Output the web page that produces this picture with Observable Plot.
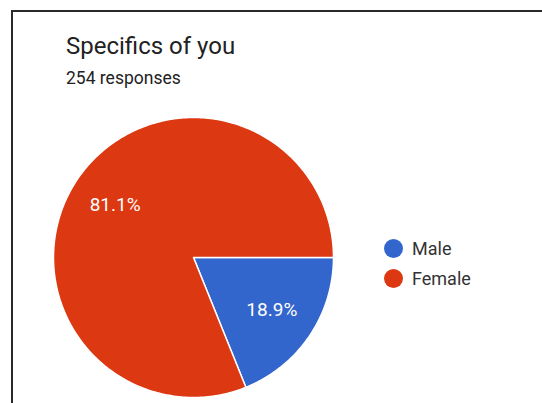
<!DOCTYPE html>
<html>
<head>
<meta charset="utf-8">
<script src="https://cdn.jsdelivr.net/npm/d3@7"></script>
<script src="https://cdn.jsdelivr.net/npm/@observablehq/plot@0.6"></script>
<style>
  html, body { margin: 0; padding: 0; background: #fff; }
  body { width: 542px; height: 403px; position: relative; overflow: hidden; font-family: Roboto, "Noto Sans", Arial, sans-serif; }
  .frame { position: absolute; left: 11px; top: 10px; right: 0; bottom: 0; border-left: 2.5px solid #2a2a2a; border-top: 2.5px solid #2a2a2a; }
  .title { position: absolute; left: 66px; top: 34px; font-size: 24px; line-height: 24px; color: #222; white-space: nowrap; }
  .subtitle { position: absolute; left: 66px; top: 69px; font-size: 17.5px; line-height: 18px; color: #222; white-space: nowrap; }
  #chart { position: absolute; left: 0; top: 0; }
  .legend { position: absolute; left: 384px; top: 233px; }
  .legend .row { display: flex; align-items: center; height: 30px; }
  .legend .dot { width: 19px; height: 19px; border-radius: 50%; margin-right: 9px; }
  .legend .lab { font-size: 18px; color: #333; }
</style>
</head>
<body>
<div class="frame"></div>
<div class="title">Specifics of you</div>
<div class="subtitle">254 responses</div>
<div id="chart"></div>
<div class="legend" id="legend"></div>
<script>
const categories = ["Male", "Female"];
const counts = [48, 206];
const colors = ["#3366CC", "#DC3912"];

const total = d3.sum(counts);
const data = categories.map((c, i) => ({cat: c, count: counts[i]}));
const arcs = d3.pie().value(d => d.count).sort(null)
  .startAngle(Math.PI / 2).endAngle(Math.PI / 2 + 2 * Math.PI)(data);

// wedge outlines in unit coordinates (y up), angle 0 at 12 o'clock, clockwise
const wedgePts = [];
arcs.forEach(a => {
  const cat = a.data.cat;
  wedgePts.push({cat, x: 0, y: 0});
  const n = Math.max(2, Math.ceil((a.endAngle - a.startAngle) / (Math.PI / 180)));
  for (let k = 0; k <= n; k++) {
    const t = a.startAngle + (a.endAngle - a.startAngle) * k / n;
    wedgePts.push({cat, x: Math.sin(t), y: Math.cos(t)});
  }
});
const labels = arcs.map(a => {
  const m = (a.startAngle + a.endAngle) / 2;
  return {x: 0.675 * Math.sin(m), y: 0.675 * Math.cos(m), text: d3.format(".1%")(a.data.count / total)};
});

const plot = Plot.plot({
  width: 542,
  height: 403,
  margin: 0,
  x: {domain: [-1, 1], range: [53, 333], axis: null},
  y: {domain: [-1, 1], range: [397, 117], axis: null},
  color: {domain: categories, range: colors},
  style: {background: "transparent", fontFamily: "Roboto, sans-serif"},
  marks: [
    Plot.line(wedgePts, {x: "x", y: "y", z: "cat", fill: "cat", stroke: "white", strokeWidth: 1.5, strokeLinejoin: "round", curve: "linear-closed"}),
    Plot.text(labels, {x: "x", y: "y", text: "text", fill: "white", fontSize: 19})
  ]
});
document.getElementById("chart").appendChild(plot);

const legend = document.getElementById("legend");
categories.forEach((c, i) => {
  const row = document.createElement("div");
  row.className = "row";
  const dot = document.createElement("div");
  dot.className = "dot";
  dot.style.background = colors[i];
  const lab = document.createElement("div");
  lab.className = "lab";
  lab.textContent = c;
  row.appendChild(dot);
  row.appendChild(lab);
  legend.appendChild(row);
});
</script>
</body>
</html>
